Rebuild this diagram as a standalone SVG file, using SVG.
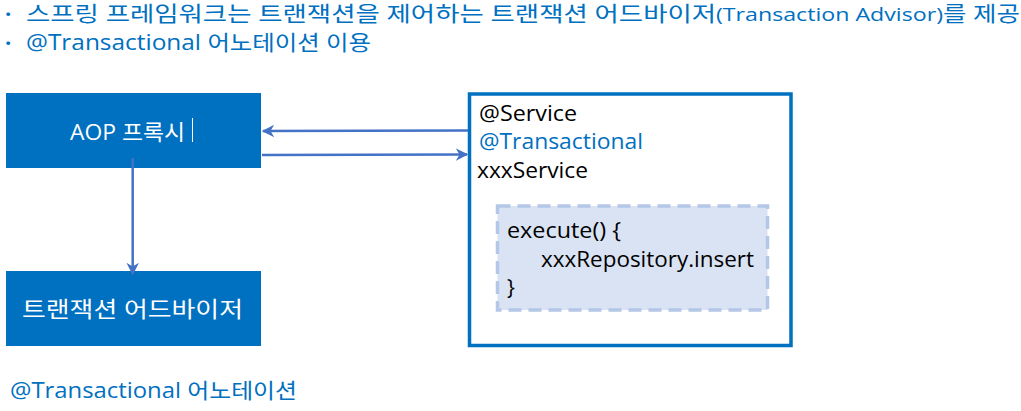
<svg xmlns="http://www.w3.org/2000/svg" width="1021" height="411" viewBox="0 0 1021 411">
  <style>
    text { font-family: "Open Sans", "Noto Sans CJK KR", sans-serif; }
    .hdr { fill: #0070C0; font-size: 21px; }
    .dot { fill: #0070C0; font-size: 22px; font-weight: bold; }
    .white { fill: #FFFFFF; font-size: 22px; }
    .code { fill: #000000; font-size: 21px; }
    .blue { fill: #0070C0; }
    .solid { fill: #0070C0; }
    .conn { stroke: #4472C4; stroke-width: 2.5; fill: none; marker-end: url(#arr); }
  </style>
  <defs>
    <marker id="arr" viewBox="0 0 10 10" refX="9" refY="5" markerWidth="5" markerHeight="5" orient="auto" markerUnits="strokeWidth">
      <path d="M0,0 L10,5 L0,10 L3,5 Z" fill="#4472C4"/>
    </marker>
  </defs>

  <g id="header">
    <text class="dot" x="5" y="22">·</text>
    <text class="hdr" y="21"><tspan x="26" textLength="690" lengthAdjust="spacingAndGlyphs">스프링 프레임워크는 트랜잭션을 제어하는 트랜잭션 어드바이저</tspan><tspan x="716" font-size="19" textLength="227" lengthAdjust="spacingAndGlyphs">(Transaction Advisor)</tspan><tspan x="943" textLength="77" lengthAdjust="spacingAndGlyphs">를 제공</tspan></text>
    <text class="dot" x="5" y="51">·</text>
    <text class="hdr" x="26" y="50" textLength="345" lengthAdjust="spacingAndGlyphs">@Transactional 어노테이션 이용</text>
  </g>

  <g id="aop-proxy">
    <rect class="solid" x="6" y="93" width="255" height="75"/>
    <text class="white" x="70" y="140" textLength="115" lengthAdjust="spacingAndGlyphs">AOP 프록시</text>
    <line x1="192.5" y1="118" x2="192.5" y2="142" stroke="#FFFFFF" stroke-width="1"/>
  </g>

  <g id="transaction-advisor">
    <rect class="solid" x="6" y="271" width="255" height="75"/>
    <text class="white" x="22" y="317" textLength="221" lengthAdjust="spacingAndGlyphs">트랜잭션 어드바이저</text>
  </g>

  <g id="xxx-service">
    <rect x="469.5" y="94" width="321.5" height="251.5" fill="#FFFFFF" stroke="#0070C0" stroke-width="3.5"/>
    <text class="code" x="479" y="121" textLength="98" lengthAdjust="spacingAndGlyphs">@Service</text>
    <text class="code blue" x="479" y="149" textLength="164" lengthAdjust="spacingAndGlyphs">@Transactional</text>
    <text class="code" x="477" y="178" textLength="111" lengthAdjust="spacingAndGlyphs">xxxService</text>
  </g>

  <g id="execute-method">
    <rect x="497.5" y="206" width="270" height="104" fill="#DAE3F3" stroke="#B4C7E7" stroke-width="3.5" stroke-dasharray="13 7"/>
    <text class="code" x="507" y="238" textLength="114" lengthAdjust="spacingAndGlyphs">execute() {</text>
    <text class="code" x="541" y="267" textLength="213" lengthAdjust="spacingAndGlyphs">xxxRepository.insert</text>
    <text class="code" x="507" y="295">}</text>
  </g>

  <g id="footer">
    <text class="hdr" x="10" y="398" textLength="287" lengthAdjust="spacingAndGlyphs">@Transactional 어노테이션</text>
  </g>

  <g id="connectors">
    <line class="conn" x1="468" y1="130.5" x2="263" y2="131"/>
    <line class="conn" x1="262" y1="155" x2="467" y2="154.5"/>
    <line class="conn" x1="132.7" y1="158" x2="132.7" y2="274"/>
  </g>
</svg>
